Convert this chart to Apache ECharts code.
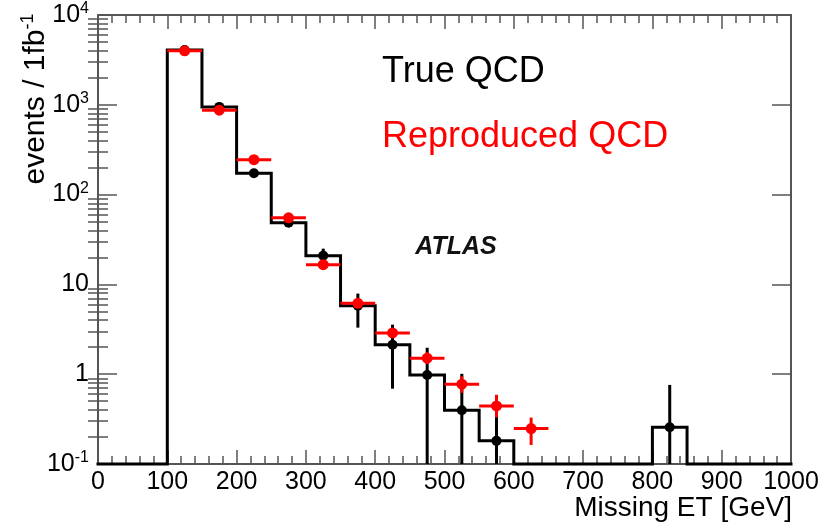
<!DOCTYPE html>
<html>
<head>
<meta charset="utf-8">
<script src="https://cdn.jsdelivr.net/npm/echarts@6/dist/echarts.min.js"></script>
<style>
html,body{margin:0;padding:0;background:#fff;}
#chart{width:834px;height:525px;}
</style>
</head>
<body>
<div id="chart"></div>
<script>
// ---- data ----
const histEdges = [0,50,100,150,200,250,300,350,400,450,500,550,600,650,700,750,800,850,900,950,1000];
const trueQCD   = [0,0,4066,948,173,48.6,20.9,5.8,2.13,0.98,0.397,0.181,0,0,0,0,0.257,0,0,0];
const trueErrLow  = [0,0,3990,915,165,45,18.5,3.3,0.69,0,0,0,0,0,0,0,0,0,0,0];
const trueErrHigh = [0,0,4140,980,181,52,25,7.9,3.56,1.97,1.01,0.57,0,0,0,0,0.76,0,0,0];

const recoCenters = [125,175,225,275,325,375,425,475,525,575,625];
const recoQCD     = [3990,871,245,55.2,16.6,6.15,2.88,1.51,0.775,0.443,0.248];
const recoErrLow  = [3920,845,236,52.5,15.6,5.6,2.6,1.3,0.62,0.33,0.163];
const recoErrHigh = [4060,897,254,58,17.6,6.7,3.2,1.75,0.95,0.59,0.329];
const recoXErr    = [25,25,25,25,25,25,25,25,25,25,25];

const xTickStep = 100;
const yTickExps = [-1,0,1,2,3,4];
const minorMultipliers = [2,3,4,5,6,7,8,9];

// ---- derived ----
const yMin = Math.pow(10, yTickExps[0]);
const yMax = Math.pow(10, yTickExps[yTickExps.length-1]);
const nb = trueQCD.length;
const histLine = [];
for (let i = 0; i < nb; i++) histLine.push([histEdges[i], Math.max(trueQCD[i], yMin)]);
histLine.push([histEdges[nb], Math.max(trueQCD[nb-1], yMin)]);

const truePts = [];
for (let i = 0; i < nb; i++) {
  if (trueQCD[i] > 0) {
    truePts.push([(histEdges[i]+histEdges[i+1])/2, trueQCD[i], trueErrLow[i], trueErrHigh[i], 0]);
  }
}
const recoPts = recoCenters.map((c,i)=>[c, recoQCD[i], recoErrLow[i], recoErrHigh[i], recoXErr[i]]);

const minorLog = [];
for (let e = yTickExps[0]; e < yTickExps[yTickExps.length-1]; e++) {
  minorMultipliers.forEach(m => minorLog.push(e + Math.log10(m)));
}

const axisColor = '#555';
const tickFont = 'Liberation Sans';

function yLabel(v) {
  const e = Math.round(Math.log10(v));
  if (e === 0) return '{b|1}';
  if (e === 1) return '{b|10}';
  return '{b|10}{s|' + e + '}';
}
const yRich = {
  b: {fontSize: 25, fontFamily: tickFont, color: '#000', lineHeight: 28},
  s: {fontSize: 16, fontFamily: tickFont, color: '#000', verticalAlign: 'top', lineHeight: 18}
};

function errRender(color, r) {
  return function(params, api) {
    const x = api.value(0), y = api.value(1), lo = api.value(2), hi = api.value(3), xe = api.value(4);
    const c = api.coord([x, y]);
    const pLo = api.coord([x, Math.max(lo, yMin)]);
    const pHi = api.coord([x, Math.max(hi, yMin)]);
    const children = [];
    children.push({type:'line', shape:{x1:c[0], y1:pLo[1], x2:c[0], y2:pHi[1]},
      style:{stroke:color, lineWidth:3}});
    if (xe > 0) {
      const a = api.coord([x - xe, y]), b = api.coord([x + xe, y]);
      children.push({type:'line', shape:{x1:a[0], y1:a[1], x2:b[0], y2:b[1]},
        style:{stroke:color, lineWidth:3}});
    }
    children.push({type:'circle', shape:{cx:c[0], cy:c[1], r:r}, style:{fill:color}});
    return {type:'group', children: children};
  };
}

const chart = echarts.init(document.getElementById('chart'), null, {renderer:'canvas'});
const xBase = {
  type:'value', min:0, max:1000, interval:xTickStep,
  axisLine:{show:true, onZero:false, lineStyle:{color:axisColor, width:2}},
  axisTick:{show:true, inside:true, length:14, lineStyle:{color:axisColor, width:1.5}},
  minorTick:{show:true, splitNumber:5, length:8, lineStyle:{color:axisColor, width:1.5}},
  splitLine:{show:false}
};
const yMajorBase = {
  type:'log', logBase:10, min:yMin, max:yMax,
  axisLine:{show:true, onZero:false, lineStyle:{color:axisColor, width:2}},
  axisTick:{show:true, inside:true, length:19, lineStyle:{color:axisColor, width:1.5}},
  splitLine:{show:false}
};
const yMinorBase = {
  type:'value', min:yTickExps[0], max:yTickExps[yTickExps.length-1],
  axisLine:{show:false},
  axisLabel:{show:false},
  axisTick:{show:true, inside:true, length:10, customValues:minorLog, lineStyle:{color:axisColor, width:1.5}},
  splitLine:{show:false}
};

chart.setOption({
  animation:false,
  backgroundColor:'#fff',
  grid:{left:98, right:43, top:15, bottom:61, containLabel:false, outerBoundsMode:'none'},
  xAxis:[
    Object.assign({}, xBase, {position:'bottom',
      axisLabel:{show:true, margin:6, fontSize:25, fontFamily:tickFont, color:'#000',
        showMinLabel:true, showMaxLabel:true, formatter: v => String(v)}}),
    Object.assign({}, xBase, {position:'top', axisLabel:{show:false}})
  ],
  yAxis:[
    Object.assign({}, yMajorBase, {position:'left',
      axisLabel:{show:true, margin:9, formatter:yLabel, rich:yRich, showMinLabel:true, showMaxLabel:true}}),
    Object.assign({}, yMajorBase, {position:'right', axisLabel:{show:false}}),
    Object.assign({}, yMinorBase, {position:'left'}),
    Object.assign({}, yMinorBase, {position:'right'})
  ],
  series:[
    {type:'line', name:'True QCD hist', data:histLine, step:'end', xAxisIndex:0, yAxisIndex:0,
     symbol:'none', clip:false, z:3,
     lineStyle:{color:'#000', width:3, join:'miter', cap:'square'}},
    {type:'custom', name:'True QCD', data:truePts, xAxisIndex:0, yAxisIndex:0, z:4,
     renderItem: errRender('#000', 5)},
    {type:'custom', name:'Reproduced QCD', data:recoPts, xAxisIndex:0, yAxisIndex:0, z:5,
     renderItem: errRender('#ff0000', 5.5)}
  ],
  graphic:[
    {type:'text', x:36, y:99, rotation:Math.PI/2, z:10,
     style:{text:'{a|events / 1fb}{s|-1}', align:'center', verticalAlign:'middle',
       rich:{a:{fontSize:30, fontFamily:tickFont, fill:'#000', lineHeight:34},
             s:{fontSize:18, fontFamily:tickFont, fill:'#000', verticalAlign:'top', lineHeight:20}}}},
    {type:'text', x:792, y:508, z:10,
     style:{text:'Missing ET [GeV]', align:'right', verticalAlign:'middle',
       font:'28px "Liberation Sans"', fill:'#000'}},
    {type:'text', x:382, y:72.5, z:10,
     style:{text:'True QCD', align:'left', verticalAlign:'middle',
       font:'36px "Liberation Sans"', fill:'#000'}},
    {type:'text', x:382, y:137, z:10,
     style:{text:'Reproduced QCD', align:'left', verticalAlign:'middle',
       font:'36px "Liberation Sans"', fill:'#ff0000'}},
    {type:'text', x:456, y:247, z:10,
     style:{text:'ATLAS', align:'center', verticalAlign:'middle',
       font:'italic bold 25px "Liberation Sans"', fill:'#111',
       shadowBlur:3, shadowColor:'rgba(0,0,0,0.6)'}}
  ]
});
</script>
</body>
</html>
